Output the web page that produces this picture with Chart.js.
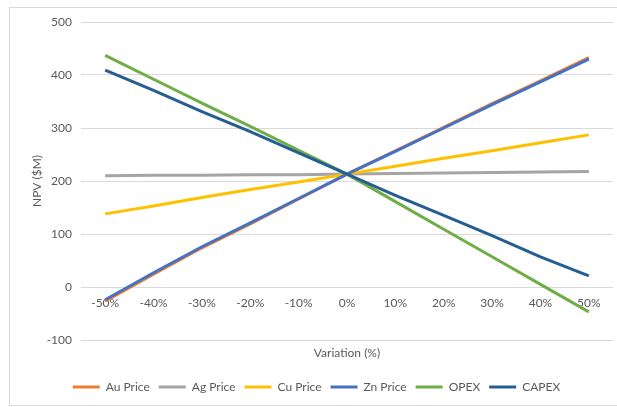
<!DOCTYPE html>
<html>
<head>
<meta charset="utf-8">
<script src="https://cdn.jsdelivr.net/npm/chart.js@4"></script>
<style>
  body { margin: 0; background: #fff; overflow: hidden; }
  #frame { position: absolute; left: 9px; top: 7px; width: 700px; height: 397px; border: 1px solid #d9d9d9; }
  #wrap { position: absolute; left: 0; top: 0; width: 617px; height: 407px; }
</style>
</head>
<body>
<div id="frame"></div>
<div id="wrap"><canvas id="npv_chart"></canvas></div>
<script>
const variation = ['-50%', '-40%', '-30%', '-20%', '-10%', '0%', '10%', '20%', '30%', '40%', '50%']
const au_price = [-27, 24, 74, 119, 166, 213, 257, 301, 346, 389, 433]
const ag_price = [210, 211, 211, 212, 212, 213, 214, 215, 216, 217, 218]
const cu_price = [138, 153, 169, 184, 198, 213, 228, 243, 257, 272, 287]
const zn_price = [-24, 27, 76, 121, 167, 213, 256, 300, 344, 387, 430]
const opex = [437, 392, 347, 303, 258, 213, 161, 109, 57, 5, -47]
const capex = [409, 371, 331, 293, 253, 213, 173, 135, 97, 57, 21]
const y_ticks = [-100, 0, 100, 200, 300, 400, 500]

Chart.defaults.font.family = 'Lato'
Chart.defaults.font.size = 12
Chart.defaults.color = '#595959'

const series = [
  ['Au Price', au_price, '#ED7D31'],
  ['Ag Price', ag_price, '#A5A5A5'],
  ['Cu Price', cu_price, '#FFC000'],
  ['Zn Price', zn_price, '#4472C4'],
  ['OPEX', opex, '#70AD47'],
  ['CAPEX', capex, '#255E91']
]

// later series sit on top, like in the spreadsheet
const datasets = series.map((s, i) => ({
  label: s[0],
  data: s[1],
  borderColor: s[2],
  backgroundColor: s[2],
  borderWidth: 3,
  pointRadius: 0,
  tension: 0,
  order: series.length - i,
  xAxisID: 'x'
}))

new Chart(document.getElementById('npv_chart'), {
  type: 'line',
  data: { labels: variation, datasets: datasets },
  options: {
    responsive: true,
    maintainAspectRatio: false,
    animation: false,
    layout: { padding: { left: 20, right: 4, top: 22, bottom: 4 } },
    plugins: {
      tooltip: { enabled: false },
      legend: {
        position: 'bottom',
        labels: {
          usePointStyle: true,
          pointStyle: 'line',
          pointStyleWidth: 27,
          padding: 9,
          sort: (a, b) => a.datasetIndex - b.datasetIndex
        }
      }
    },
    scales: {
      x: {
        offset: true,
        afterFit: s => { s.height = 32 },
        grid: { display: false },
        border: { display: false },
        ticks: { display: false },
        title: { display: true, text: 'Variation (%)', padding: { top: 6, bottom: 12 } }
      },
      // tick labels sit on the zero line
      x2: {
        type: 'category',
        position: { y: 0 },
        offset: true,
        grid: { display: false, drawTicks: false },
        border: { display: false },
        ticks: { padding: 9 }
      },
      y: {
        min: -100,
        max: 500,
        afterBuildTicks: s => { s.ticks = y_ticks.map(v => ({ value: v })) },
        afterFit: s => { s.width = 61 },
        grid: { color: '#d9d9d9', drawTicks: false },
        border: { display: false },
        ticks: { padding: 9 },
        title: { display: true, text: 'NPV ($M)', padding: { top: 10, bottom: 4 } }
      }
    }
  }
})
</script>
</body>
</html>
